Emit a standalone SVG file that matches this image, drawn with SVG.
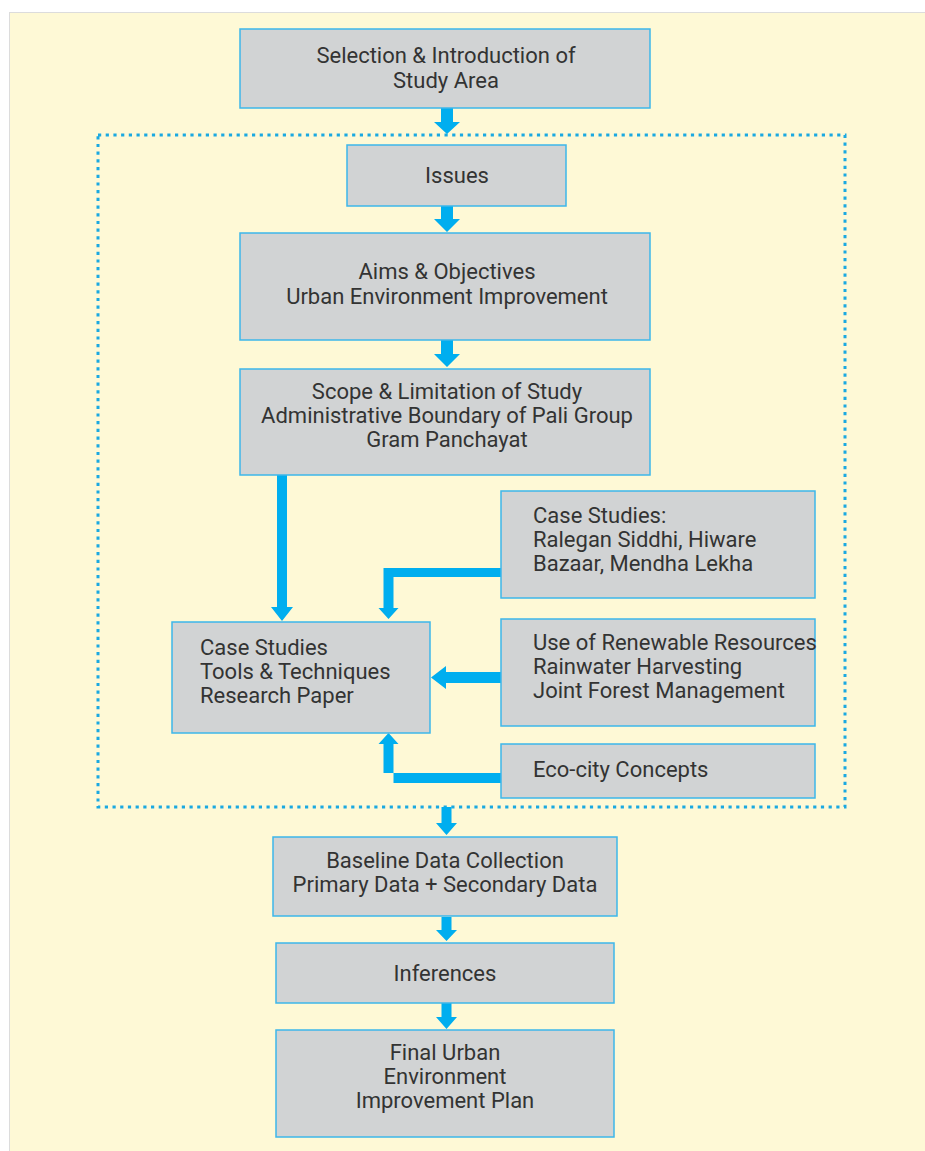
<svg xmlns="http://www.w3.org/2000/svg" width="925" height="1151" viewBox="0 0 925 1151">
<style>
.box{fill:#D1D3D4;stroke:#3DB7EA;stroke-width:1.5}
.t{font-family:Roboto,"Liberation Sans",sans-serif;font-size:22px;fill:#333333}
.c{text-anchor:middle}
.arr{fill:#00AEEF}
</style>
<rect x="0" y="0" width="925" height="1151" fill="#FFFFFF"/>
<rect x="9.5" y="12.5" width="916" height="1140" fill="#FEF9D6" stroke="#DCDCDC" stroke-width="1"/>
<rect id="boundary" x="98" y="135" width="747" height="672" fill="none" stroke="#1AA9E1" stroke-width="3" stroke-dasharray="3.2 4.5"/>
<g id="connectors">
<polygon class="arr" points="441,108 453,108 453,122 460,122 447,134 434,122 441,122"/>
<polygon class="arr" points="441,206 453,206 453,219 460,219 447,232 434,219 441,219"/>
<polygon class="arr" points="441,340 453,340 453,354 460,354 447,367 434,354 441,354"/>
<polygon class="arr" points="277,475 287,475 287,607 293,607 282,621 271,607 277,607"/>
<polygon class="arr" points="501,568 383.5,568 383.5,608 378.5,608 388.5,619 398.5,608 393.5,608 393.5,577 501,577"/>
<polygon class="arr" points="501,672 446,672 446,666 431,677.5 446,689 446,683 501,683"/>
<polygon class="arr" points="501,773 383.5,773 383.5,744 378.5,744 388.5,733 398.5,744 393.5,744 393.5,783 501,783"/>
<polygon class="arr" points="441.5,807 451.5,807 451.5,823 457,823 446.5,835 436,823 441.5,823"/>
<polygon class="arr" points="441.5,917 451.5,917 451.5,930 457,930 446.5,941 436,930 441.5,930"/>
<polygon class="arr" points="441.5,1003 451.5,1003 451.5,1017 457,1017 446.5,1029 436,1017 441.5,1017"/>
</g>
<g id="selection">
<rect class="box" x="240" y="29" width="410" height="79"/>
<text class="t c" x="446" y="63">Selection &amp; Introduction of</text>
<text class="t c" x="446" y="88">Study Area</text>
</g>
<g id="issues">
<rect class="box" x="347" y="145" width="219" height="61"/>
<text class="t c" x="457" y="183">Issues</text>
</g>
<g id="aims">
<rect class="box" x="240" y="233" width="410" height="107"/>
<text class="t c" x="447" y="279">Aims &amp; Objectives</text>
<text class="t c" x="447" y="304">Urban Environment Improvement</text>
</g>
<g id="scope">
<rect class="box" x="240" y="369" width="410" height="106"/>
<text class="t c" x="447" y="399">Scope &amp; Limitation of Study</text>
<text class="t c" x="447" y="423">Administrative Boundary of Pali Group</text>
<text class="t c" x="447" y="447">Gram Panchayat</text>
</g>
<g id="tools">
<rect class="box" x="172" y="622" width="258" height="111"/>
<text class="t" x="200" y="655">Case Studies</text>
<text class="t" x="200" y="679">Tools &amp; Techniques</text>
<text class="t" x="200" y="703">Research Paper</text>
</g>
<g id="casestudies">
<rect class="box" x="501" y="491" width="314" height="107"/>
<text class="t" x="533" y="523">Case Studies:</text>
<text class="t" x="533" y="547">Ralegan Siddhi, Hiware</text>
<text class="t" x="533" y="571">Bazaar, Mendha Lekha</text>
</g>
<g id="renewable">
<rect class="box" x="501" y="619" width="314" height="107"/>
<text class="t" x="533" y="650">Use of Renewable Resources</text>
<text class="t" x="533" y="674">Rainwater Harvesting</text>
<text class="t" x="533" y="698">Joint Forest Management</text>
</g>
<g id="ecocity">
<rect class="box" x="501" y="744" width="314" height="54"/>
<text class="t" x="533" y="777">Eco-city Concepts</text>
</g>
<g id="baseline">
<rect class="box" x="273" y="837" width="344" height="79"/>
<text class="t c" x="445" y="868">Baseline Data Collection</text>
<text class="t c" x="445" y="892">Primary Data + Secondary Data</text>
</g>
<g id="inferences">
<rect class="box" x="276" y="943" width="338" height="60"/>
<text class="t c" x="445" y="981">Inferences</text>
</g>
<g id="final">
<rect class="box" x="276" y="1030" width="338" height="107"/>
<text class="t c" x="445" y="1060">Final Urban</text>
<text class="t c" x="445" y="1084">Environment</text>
<text class="t c" x="445" y="1108">Improvement Plan</text>
</g>
</svg>
